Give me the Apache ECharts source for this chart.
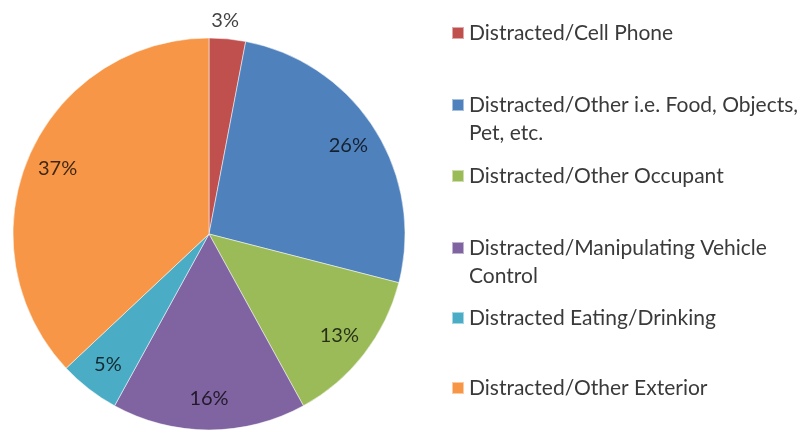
<!DOCTYPE html>
<html>
<head>
<meta charset="utf-8">
<script src="https://cdn.jsdelivr.net/npm/echarts@6/dist/echarts.min.js"></script>
<style>
  html, body { margin: 0; padding: 0; background: #fff; }
  #chart { width: 802px; height: 434px; }
</style>
</head>
<body>
<div id="chart"></div>
<script>
// 各类分心驾驶占比
const categories = [
  'Distracted/Cell Phone',
  'Distracted/Other i.e. Food, Objects,\nPet, etc.',
  'Distracted/Other Occupant',
  'Distracted/Manipulating Vehicle\nControl',
  'Distracted Eating/Drinking',
  'Distracted/Other Exterior'
]
const values = [3, 26, 13, 16, 5, 37]

const colors = ['#c0504d', '#4f81bd', '#9bbb59', '#8064a2', '#4bacc6', '#f79646']
const FONT = 'Lato'
const LINE_H = 28
// legend icon centre heights
const legendMid = [28, 100, 171, 243, 313, 383]

const chart = echarts.init(document.getElementById('chart'))

// one legend per item so the spacing stays even
const legends = categories.map((name, i) => {
  const twoLines = name.indexOf('\n') >= 0
  return {
    orient: 'vertical',
    left: 446,
    top: twoLines ? legendMid[i] - LINE_H * 1.5 : legendMid[i] - LINE_H / 2,
    data: [name],
    icon: 'rect',
    itemWidth: 12,
    itemHeight: 12,
    selectedMode: false,
    // 两行的文字前面补一个空行，让图标对齐第一行
    formatter: n => (twoLines ? '\n' + n : n),
    textStyle: {
      fontFamily: FONT,
      fontSize: 21,
      lineHeight: LINE_H,
      color: '#3a3a3a'
    }
  }
})

const pieData = categories.map((name, i) => ({
  name: name,
  value: values[i],
  itemStyle: { color: colors[i] },
  label: { show: i === 0 }
}))

const option = {
  backgroundColor: '#fff',
  animation: false,
  legend: legends,
  series: [
    {
      type: 'pie',
      center: [209, 234],
      radius: [0, 196],
      startAngle: 90,
      clockwise: true,
      data: pieData,
      itemStyle: { borderColor: 'rgba(255,255,255,0.5)', borderWidth: 1 },
      label: {
        position: 'outside',
        formatter: '{c}%',
        fontFamily: FONT,
        fontSize: 20,
        color: 'rgba(0,0,0,0.75)'
      },
      labelLine: { show: false, length: 18, length2: 0 },
      labelLayout: { align: 'center', dx: -9 },
      emphasis: { disabled: true }
    },
    {
      // 透明的一层，只负责把百分比放在靠外的位置
      type: 'pie',
      center: [209, 234],
      radius: [128, 196],
      startAngle: 90,
      clockwise: true,
      silent: true,
      data: categories.map((name, i) => ({
        name: name,
        value: values[i],
        label: { show: i !== 0 }
      })),
      itemStyle: { color: 'rgba(0,0,0,0)' },
      label: {
        position: 'inside',
        formatter: '{c}%',
        fontFamily: FONT,
        fontSize: 20,
        color: 'rgba(0,0,0,0.75)'
      },
      labelLine: { show: false },
      emphasis: { disabled: true }
    }
  ]
}
chart.setOption(option)
</script>
</body>
</html>
